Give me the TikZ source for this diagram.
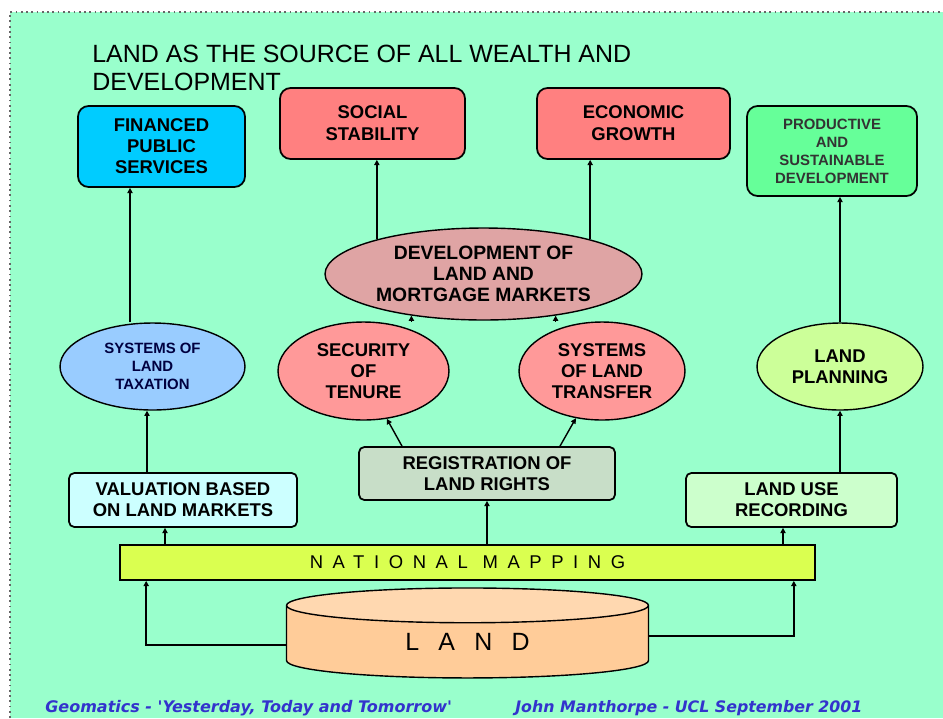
\documentclass[tikz,border=0pt]{standalone}
\usepackage{fontspec}
\setmainfont{Liberation Sans}
\newfontfamily\spacedfont[LetterSpace=52]{Liberation Sans}
\newfontfamily\landfont[LetterSpace=77]{Liberation Sans}
\newfontfamily\footfont{DejaVu Sans}
\usetikzlibrary{shapes.geometric,arrows.meta}
\usepackage{xcolor}
\definecolor{bggreen}{HTML}{99FFCC}
\definecolor{cyanbox}{HTML}{00CCFF}
\definecolor{redbox}{HTML}{FF8080}
\definecolor{greenbox}{HTML}{66FF99}
\definecolor{devfill}{HTML}{DFA4A4}
\definecolor{taxfill}{HTML}{99CCFF}
\definecolor{pinkoval}{HTML}{FF9999}
\definecolor{planfill}{HTML}{CCFF99}
\definecolor{valfill}{HTML}{CCFFFF}
\definecolor{regfill}{HTML}{C8DEC8}
\definecolor{usefill}{HTML}{CCFFCC}
\definecolor{mapfill}{HTML}{DAFF50}
\definecolor{landbody}{HTML}{FFCC99}
\definecolor{landtop}{HTML}{FFD8B0}
\definecolor{footblue}{HTML}{3333CC}

\begin{document}
\begin{tikzpicture}[
  x=0.02cm, y=-0.02cm,
  box/.style={draw, line width=1pt, rounded corners=3pt, align=center,
              inner sep=0pt, font=\bfseries\fontsize{10.5}{12}\selectfont},
  topbox/.style={box, rounded corners=6pt},
  oval/.style={ellipse, draw, line width=0.8pt, align=center, inner sep=0pt,
               font=\bfseries\fontsize{10.5}{12}\selectfont},
  small/.style={font=\bfseries\fontsize{8.5}{10.2}\selectfont, text=black!80},
  arr/.style={-{Triangle[length=3pt,width=3pt]}, line width=0.8pt}
]
  % background
  \useasboundingbox (0,0) rectangle (943,718);
  \fill[bggreen] (10,12) rectangle (943,718);
  \draw[dotted, line width=1pt, black!60] (10,718) -- (10,12) -- (943,12);

  % title
  \node[anchor=west, align=left, inner sep=0pt,
        font=\fontsize{14.2}{16}\selectfont] (title) at (92,68)
    {LAND AS THE SOURCE OF ALL WEALTH AND\\DEVELOPMENT};

  % Top row
  \node[topbox, fill=cyanbox, minimum width=3.34cm, minimum height=1.62cm]
    (fin) at (161.5,146.5) {FINANCED\\PUBLIC\\SERVICES};
  \node[topbox, fill=redbox, minimum width=3.7cm, minimum height=1.42cm,
        font=\bfseries\fontsize{10.5}{12.5}\selectfont]
    (soc) at (372.5,123.5) {SOCIAL\\STABILITY};
  \node[topbox, fill=redbox, minimum width=3.86cm, minimum height=1.42cm,
        font=\bfseries\fontsize{10.5}{12.5}\selectfont]
    (eco) at (633.5,123.5) {ECONOMIC\\GROWTH};
  \node[topbox, small, fill=greenbox, minimum width=3.4cm, minimum height=1.8cm]
    (prod) at (832,151) {PRODUCTIVE\\AND\\SUSTAINABLE\\DEVELOPMENT};

  % Ovals
  \node[oval, fill=devfill, minimum width=6.34cm, minimum height=1.84cm,
        inner xsep=-8pt, font=\bfseries\fontsize{11}{11.8}\selectfont]
    (dev) at (483.5,274) {DEVELOPMENT OF\\LAND AND\\MORTGAGE MARKETS};
  \node[oval, small, fill=taxfill, minimum width=3.7cm, minimum height=1.74cm,
        text=black!75!blue]
    (tax) at (152.5,366.5) {SYSTEMS OF\\LAND\\TAXATION};
  \node[oval, fill=pinkoval, minimum width=3.42cm, minimum height=1.96cm]
    (sec) at (363.5,371) {SECURITY\\OF\\TENURE};
  \node[oval, fill=pinkoval, minimum width=3.32cm, minimum height=1.96cm]
    (trans) at (602,371) {SYSTEMS\\OF LAND\\TRANSFER};
  \node[oval, fill=planfill, minimum width=3.32cm, minimum height=1.74cm]
    (plan) at (840,366.5) {LAND\\PLANNING};

  % Lower row
  \node[box, fill=valfill, minimum width=4.56cm, minimum height=1.08cm]
    (val) at (183,500) {VALUATION BASED\\ON LAND MARKETS};
  \node[box, fill=regfill, minimum width=5.12cm, minimum height=1.06cm]
    (reg) at (487,473.5) {REGISTRATION OF\\LAND RIGHTS};
  \node[box, fill=usefill, minimum width=4.22cm, minimum height=1.08cm]
    (use) at (791.5,500) {LAND USE\\RECORDING};

  % Base
  \node[draw, line width=1pt, fill=mapfill, minimum width=13.9cm,
        minimum height=0.7cm, inner sep=0pt,
        font=\spacedfont\fontsize{10.5}{12}\selectfont]
    (map) at (467.5,562.5) {NATIONAL MAPPING};
  \node[cylinder, shape border rotate=90, draw, line width=0.8pt, aspect=0.28,
        cylinder uses custom fill, cylinder body fill=landbody,
        cylinder end fill=landtop, minimum width=7.24cm, minimum height=1.8cm,
        inner sep=0pt, font=\landfont\fontsize{14.2}{16}\selectfont]
    (land) at (467.5,642) {\raisebox{-0.12cm}{LAND}};

  % Arrows from the base
  \draw[arr] ([yshift=-0.06cm]land.west) -| ([xshift=0.54cm]map.south west);
  \draw[arr] ([yshift=0.12cm]land.east) -| ([xshift=-0.44cm]map.south east);
  \draw[arr] ([xshift=-0.36cm]val.south |- map.north) -- ([xshift=-0.36cm]val.south);
  \draw[arr] (reg.south |- map.north) -- (reg.south);
  \draw[arr] ([xshift=-0.17cm]use.south |- map.north) -- ([xshift=-0.17cm]use.south);

  % Left column
  \draw[arr] ([xshift=-0.11cm]tax.south |- val.north) -- ([xshift=-0.11cm]tax.south);
  \draw[arr] ([xshift=-0.63cm]fin.south |- tax.north) -- ([xshift=-0.63cm]fin.south);

  % Middle
  \draw[arr] ([xshift=-1.7cm]reg.north) -- (sec.-64);
  \draw[arr] ([xshift=1.46cm]reg.north) -- (trans.-119);
  \draw[arr] (dev.-150 |- sec.north) -- (dev.-150);
  \draw[arr] (dev.-30 |- trans.north) -- (dev.-30);
  \draw[arr] (dev.162) -- (dev.162 |- soc.south);
  \draw[arr] (dev.18) -- (dev.18 |- eco.south);

  % Right column
  \draw[arr] (plan.south |- use.north) -- (plan.south);
  \draw[arr] (plan.north) -- (plan.north |- prod.south);

  % footer
  \node[anchor=west, inner sep=0pt, text=footblue,
        font=\footfont\bfseries\itshape\fontsize{9.1}{10}\selectfont]
    (foot1) at (45,708) {Geomatics - 'Yesterday, Today and Tomorrow'};
  \node[anchor=west, inner sep=0pt, text=footblue,
        font=\footfont\bfseries\itshape\fontsize{9}{10}\selectfont]
    (foot2) at (515,708) {John Manthorpe - UCL September 2001};
\end{tikzpicture}
\end{document}
